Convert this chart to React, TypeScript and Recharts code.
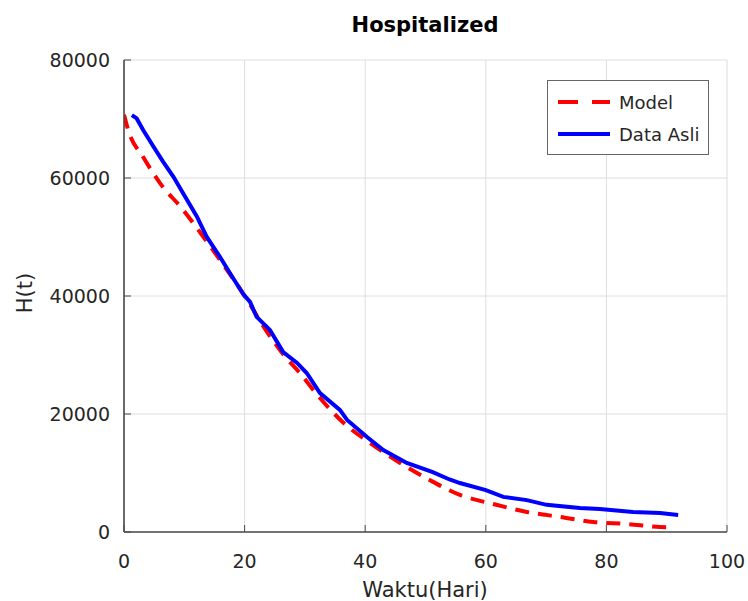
import { CartesianGrid, Line, LineChart, XAxis, YAxis } from "recharts";

// hari vs jumlah pasien dirawat
const dataAsliHari = [
  1.3, 2.1, 3.2, 4.9, 6.5, 8.2, 9.8, 12.1, 13.7, 15.9, 18.1, 19.8, 20.9, 22,
  24.2, 26.4, 28.7, 30.3, 32.5, 35.8, 37, 40.3, 43, 46.9, 51.2, 54, 55.7, 60,
  62.9, 66.8, 70.1, 75.6, 78.9, 84.4, 88.9, 91.9,
];
const dataAsliNilai = [
  70650, 70100, 68100, 65300, 62750, 60200, 57400, 53450, 50050, 46650, 43000,
  40300, 39000, 36450, 34250, 30500, 28650, 26950, 23550, 20700, 19000, 16100,
  13900, 11700, 10150, 8900, 8300, 7100, 5950, 5400, 4600, 4050, 3900, 3400,
  3200, 2900,
];

const modelHari = [
  0, 0.7, 3.2, 6, 9.8, 12.6, 16, 19.7, 24, 26.5, 29.2, 32.5, 36.3, 40.8, 45.8,
  50.7, 55.7, 61.2, 66.8, 72.3, 77.8, 83.4, 88.9, 90.7,
];
const modelNilai = [
  70700, 68100, 63500, 59100, 54600, 50800, 46000, 40500, 33500, 30000, 26900,
  22700, 18600, 15100, 11700, 8800, 6300, 4750, 3400, 2550, 1700, 1350, 850,
  800,
];

const xTicks = [0, 20, 40, 60, 80, 100];
const yTicks = [0, 20000, 40000, 60000, 80000];

const dataAsli = dataAsliHari.map((t, i) => ({ t, h: dataAsliNilai[i] }));
const dataModel = modelHari.map((t, i) => ({ t, h: modelNilai[i] }));

const FONT = "'DejaVu Sans', sans-serif";
const TEKS = "#262626";
const SUMBU = "#4a4a4a";
const garisSumbu = { stroke: SUMBU, strokeWidth: 1.6 };

const legendItems = [
  { label: "Model", color: "#ff0000", dash: "20 14" },
  { label: "Data Asli", color: "#0000ff", dash: undefined },
];

// kotak legenda di pojok kanan atas
function KotakLegend() {
  return (
    <div
      style={{
        position: "absolute",
        left: 547,
        top: 80,
        border: "1px solid #666",
        background: "#fff",
        width: 162,
        height: 75,
        boxSizing: "border-box",
        fontFamily: FONT,
        fontSize: 18,
        color: TEKS,
        paddingTop: 5,
      }}
    >
      {legendItems.map((it) => (
        <div
          key={it.label}
          style={{ display: "flex", alignItems: "center", height: 32 }}
        >
          <svg width={62} height={10} style={{ marginLeft: 9 }}>
            <line
              x1={1}
              y1={5}
              x2={53}
              y2={5}
              stroke={it.color}
              strokeWidth={4}
              strokeDasharray={it.dash}
            />
          </svg>
          <span>{it.label}</span>
        </div>
      ))}
    </div>
  );
}

export default function App() {
  return (
    <div style={{ position: "absolute", left: 0, top: 0, width: 748, height: 601 }}>
      <LineChart
        width={748}
        height={601}
        margin={{ top: 60, right: 21, bottom: 0, left: 0 }}
      >
        <CartesianGrid stroke="#dedede" />
        <XAxis
          dataKey="t"
          type="number"
          domain={[0, 100]}
          ticks={xTicks}
          height={69}
          stroke={SUMBU}
          axisLine={garisSumbu}
          tickSize={-7}
          tickMargin={30}
          tick={{ fill: TEKS, fontSize: 19, fontFamily: FONT }}
          allowDataOverflow
        />
        <XAxis
          xAxisId="atas"
          dataKey="t"
          type="number"
          orientation="top"
          domain={[0, 100]}
          ticks={xTicks}
          height={0}
          stroke={SUMBU}
          axisLine={garisSumbu}
          tickSize={-7}
          tick={false}
        />
        <YAxis
          type="number"
          domain={[0, 80000]}
          ticks={yTicks}
          width={124}
          stroke={SUMBU}
          axisLine={garisSumbu}
          tickSize={-7}
          tickMargin={21}
          tick={{ fill: TEKS, fontSize: 19, fontFamily: FONT }}
        />
        <YAxis
          yAxisId="kanan"
          orientation="right"
          type="number"
          domain={[0, 80000]}
          ticks={yTicks}
          width={0}
          stroke={SUMBU}
          axisLine={garisSumbu}
          tickSize={-7}
          tick={false}
        />
        <Line
          data={dataModel}
          dataKey="h"
          name="Model"
          type="monotone"
          stroke="#ff0000"
          strokeWidth={4}
          strokeDasharray="14 9"
          dot={false}
          isAnimationActive={false}
        />
        <Line
          data={dataAsli}
          dataKey="h"
          name="Data Asli"
          type="linear"
          stroke="#0000ff"
          strokeWidth={4}
          dot={false}
          isAnimationActive={false}
        />
      </LineChart>
      <KotakLegend />
      <svg
        width={748}
        height={601}
        style={{ position: "absolute", left: 0, top: 0, pointerEvents: "none" }}
      >
        <text
          x={425}
          y={32}
          textAnchor="middle"
          fontFamily={FONT}
          fontSize={21}
          fontWeight="bold"
          fill="#000"
        >
          Hospitalized
        </text>
        <text
          x={425}
          y={597}
          textAnchor="middle"
          fontFamily={FONT}
          fontSize={21}
          fill={TEKS}
        >
          Waktu(Hari)
        </text>
        <text
          x={32}
          y={293}
          textAnchor="middle"
          transform="rotate(-90 32 293)"
          fontFamily={FONT}
          fontSize={21}
          fill={TEKS}
        >
          H(t)
        </text>
      </svg>
    </div>
  );
}
